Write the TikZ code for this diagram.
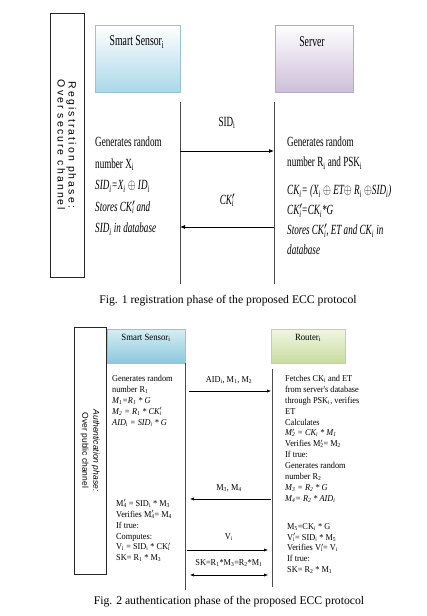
\documentclass[tikz,border=0pt]{standalone}
\usepackage{fontspec}
\usepackage{graphicx}
\setmainfont{Liberation Serif}
\newfontfamily\regfont[FakeStretch=0.65]{Liberation Serif}
\newfontfamily\authfont[FakeStretch=0.92]{Liberation Serif}
\newfontfamily\phasefont[LetterSpace=20]{Liberation Sans}
\newfontfamily\authphasefont{Liberation Sans}
\usepackage{tikz}
\usetikzlibrary{arrows.meta,positioning}
\definecolor{sensorblue}{RGB}{170,216,233}
\definecolor{sensoredge}{RGB}{150,196,214}
\definecolor{serverlilac}{RGB}{206,190,218}
\definecolor{serveredge}{RGB}{184,168,202}
\definecolor{sensortop}{RGB}{214,238,245}
\definecolor{sensordeep}{RGB}{140,200,221}
\definecolor{routertop}{RGB}{240,246,226}
\definecolor{routergreen}{RGB}{200,220,160}
\definecolor{routeredge}{RGB}{192,212,150}
\newcommand{\lo}[1]{\textsubscript{#1}}
\newcommand{\pri}[1]{\rlap{$^{\prime}$}\textsubscript{#1}}
\newcommand{\xr}{\scalebox{0.7}[1]{$\oplus$}}
\tikzset{
  lifeline/.style={line width=0.8pt,draw=black!70},
  msg/.style={-{Latex[length=5pt,width=4pt]},line width=0.8pt},
  smallmsg/.style={-{Latex[length=4pt,width=3.2pt]},line width=0.6pt},
  bothmsg/.style={{Latex[length=4pt,width=3.2pt]}-{Latex[length=4pt,width=3.2pt]},line width=0.6pt},
  phasebox/.style={draw=black!85,line width=0.8pt,rotate=-90,align=center,inner sep=0pt},
  actorbox/.style={line width=0.6pt,inner sep=0pt},
  caption/.style={font=\fontsize{11.7}{14}\selectfont,inner sep=0pt}
}

\begin{document}
\begin{tikzpicture}[
  x=1pt,y=-1pt,
  regtext/.style={font=\regfont\fontsize{14}{21.5}\selectfont,inner sep=0pt},
  regsteps/.style={regtext,align=left,anchor=north west},
  authtext/.style={font=\authfont\fontsize{9}{10.9}\selectfont,inner sep=0pt},
  authsteps/.style={authtext,align=left,anchor=north west}
]
\useasboundingbox[fill=white] (0,0) rectangle (426,616);

\begin{scope}
  \node[phasebox,minimum width=264pt,minimum height=34pt,
    font=\phasefont\fontsize{10.5}{11}\selectfont] (regPhase) at (67,145)
    {Registration phase:\\Over secure channel};

  \node[actorbox,minimum width=85pt,minimum height=67pt,
    top color=white,bottom color=sensorblue,draw=sensoredge] (sensorBox) at (137.5,58.5) {};
  \node[actorbox,minimum width=78pt,minimum height=67pt,
    top color=white,bottom color=serverlilac,draw=serveredge] (serverBox) at (314,58.5) {};
  \node[regtext,font=\regfont\fontsize{15}{18}\selectfont] (sensorName) at (137,42) {Smart Sensor\lo{i}};
  \node[regtext,font=\regfont\fontsize{15}{18}\selectfont] (serverName) at (312,42) {Server};

  \coordinate (ssTop) at (180,102);
  \coordinate (ssBot) at (180,284);
  \coordinate (svTop) at (274,102);
  \coordinate (svBot) at (274,284);
  \draw[lifeline] (ssTop) -- (ssBot);
  \draw[lifeline] (svTop) -- (svBot);

  \coordinate (ssA) at (180,151);
  \coordinate (svA) at (274,151);
  \coordinate (ssB) at (180,227);
  \coordinate (svB) at (274,227);
  \draw[msg] (ssA) -- (svA);
  \draw[msg] (svB) -- (ssB);
  \node[regtext] (sidLabel) at (227,123) {SID\lo{i}};
  \node[regtext] (ckLabel) at (227,200) {\itshape CK\pri{i}};

  \node[regsteps] (sensorSteps) at (95,137)
    {Generates random\\number X\lo{i}\\
     \textit{SID\lo{i}=X\lo{i} \xr{} ID\lo{i}}\\
     \textit{Stores CK\pri{i} and}\\
     \textit{SID\lo{i} in database}};
  \node[regsteps,font=\regfont\fontsize{14}{20}\selectfont] (serverSteps) at (287,137)
    {Generates random\\number R\lo{i} and PSK\lo{i}\\[8pt]
     \textit{CK\lo{i}= (X\lo{i} \xr{} ET\xr{} R\lo{i} \xr{}SID\lo{i})}\\
     \textit{CK\pri{i}=CK\lo{i}*G}\\
     \textit{Stores CK\pri{i}, ET and CK\lo{i} in}\\
     \textit{database}};

  \node[caption] (figOne) at (228,301) {Fig. 1 registration phase of the proposed ECC protocol};
\end{scope}

\begin{scope}
  \node[phasebox,minimum width=247pt,minimum height=32pt,
    font=\authphasefont\fontsize{8.5}{11}\selectfont] (authPhase) at (90,450.5)
    {\textit{Authentication phase:}\\Over public channel};

  \node[actorbox,minimum width=78pt,minimum height=34pt,
    top color=sensortop,bottom color=sensordeep,draw=sensoredge] (sensorBoxB) at (146,346) {};
  \node[actorbox,minimum width=74pt,minimum height=34pt,
    top color=routertop,bottom color=routergreen,draw=routeredge] (routerBox) at (308,346) {};
  \node[authtext,font=\authfont\fontsize{9.5}{11}\selectfont] (sensorNameB) at (146,338) {Smart Sensor\lo{i}};
  \node[authtext,font=\authfont\fontsize{9.5}{11}\selectfont] (routerName) at (308,338) {Router\lo{i}};

  \coordinate (sbTop) at (185,363);
  \coordinate (sbBot) at (185,590);
  \coordinate (rtTop) at (272,369);
  \coordinate (rtBot) at (272,587);
  \draw[lifeline,line width=0.7pt] (sbTop) -- (sbBot);
  \draw[lifeline,line width=0.7pt] (rtTop) -- (rtBot);

  \coordinate (aidL) at (189,391);
  \coordinate (aidR) at (271,391);
  \coordinate (mR) at (271,499);
  \coordinate (mL) at (190,499);
  \coordinate (vL) at (187,550);
  \coordinate (vR) at (268,550);
  \coordinate (skL) at (190,575);
  \coordinate (skR) at (268,575);
  \draw[smallmsg] (aidL) -- (aidR);
  \draw[smallmsg] (mR) -- (mL);
  \draw[smallmsg] (vL) -- (vR);
  \draw[bothmsg] (skL) -- (skR);

  \node[authtext] (aidLabel) at (229,380) {AID\lo{i}, M\lo{1}, M\lo{2}};
  \node[authtext] (mLabel) at (229,488) {M\lo{3}, M\lo{4}};
  \node[authtext] (vLabel) at (229,537) {V\lo{i}};
  \node[authtext] (skLabel) at (229,563) {SK=R\lo{1}*M\lo{3}=R\lo{2}*M\lo{1}};

  \node[authsteps] (sensorInit) at (112,375)
    {Generates random\\number R\lo{1}\\
     \textit{M\lo{1}=R\lo{1} * G}\\
     \textit{M\lo{2} = R\lo{1} * CK\pri{i}}\\
     \textit{AID\lo{i} = SID\lo{i} * G}};
  \node[authsteps] (routerCheck) at (285,375)
    {Fetches CK\lo{i} and ET\\from server's database\\through PSK\lo{i}, verifies\\ET\\Calculates\\
     \textit{M\pri{2} = CK\lo{i} * M\lo{1}}\\
     Verifies M\pri{2}= M\lo{2}\\If true:\\Generates random\\number R\lo{2}\\
     \textit{M\lo{3} = R\lo{2} * G}\\
     \textit{M\lo{4}= R\lo{2} * AID\lo{i}}};
  \node[authsteps] (sensorVerify) at (116,499)
    {M\pri{4} = SID\lo{i} * M\lo{3}\\Verifies M\pri{4}= M\lo{4}\\If true:\\Computes:\\
     V\lo{i} = SID\lo{i} * CK\pri{i}\\SK= R\lo{1} * M\lo{3}};
  \node[authsteps] (routerVerify) at (287,523)
    {M\lo{5}=CK\lo{i} * G\\V\pri{i}= SID\lo{i} * M\lo{5}\\Verifies V\pri{i}= V\lo{i}\\If true:\\SK= R\lo{2} * M\lo{1}};

  \node[caption] (figTwo) at (229,602) {Fig. 2 authentication phase of the proposed ECC protocol};
\end{scope}

\end{tikzpicture}
\end{document}
